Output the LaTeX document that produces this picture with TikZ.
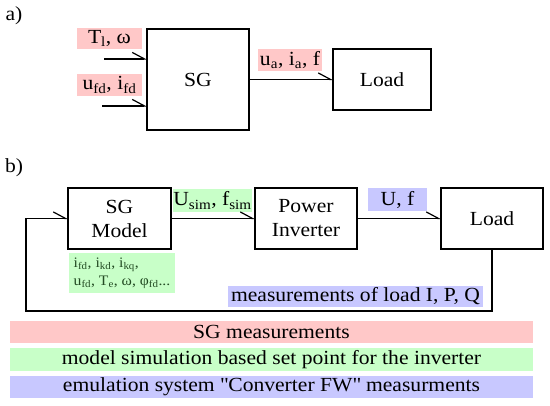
\documentclass[tikz,border=0pt]{standalone}
\usepackage{fontspec}
\setmainfont{Liberation Serif}[FakeStretch=1.08]
\usetikzlibrary{arrows.meta}
\definecolor{pinkbg}{RGB}{255,200,200}
\definecolor{greenbg}{RGB}{200,255,200}
\definecolor{bluebg}{RGB}{200,200,255}
\definecolor{darkgreentext}{RGB}{35,75,35}
\begin{document}
\begin{tikzpicture}[x=1pt,y=-1pt,
  every node/.style={inner sep=0pt,outer sep=0pt},
  txt/.style={font=\fontsize{20}{22}\selectfont},
  blk/.style={draw=black,line width=1.6pt,fill=white,align=center,font=\fontsize{20}{24}\selectfont},
  lbl/.style={font=\fontsize{20}{22}\selectfont,align=center},
  pinklbl/.style={lbl,fill=pinkbg},
  greenlbl/.style={lbl,fill=greenbg},
  bluelbl/.style={lbl,fill=bluebg},
  conn/.style={line width=1.2pt,-{Straight Barb[left,angle=56:14pt,line width=1.2pt]}},
  plain/.style={line width=1.2pt}]
\useasboundingbox (0,0) rectangle (550,406);
% a)
\node[txt] (la) at (14,16) {a)};
\node[blk,minimum width=102pt,minimum height=101pt] (sg) at (198,79.5) {SG};
\node[blk,minimum width=98pt,minimum height=61pt] (loada) at (382,79.5) {Load};
\node[pinklbl,minimum width=65pt,minimum height=21pt] (tl) at (109.5,38.5) {T\textsubscript{l}, ω};
\node[pinklbl,minimum width=65pt,minimum height=22pt] (ufd) at (109.5,85) {u\textsubscript{fd}, i\textsubscript{fd}};
\node[pinklbl,minimum width=64pt,minimum height=22pt] (ua) at (290,60) {u\textsubscript{a}, i\textsubscript{a}, f};
\coordinate (in1) at (104,59);
\coordinate (in2) at (102,106);
\draw[conn] (in1) -- (in1 -| sg.west);
\draw[conn] (in2) -- (in2 -| sg.west);
\draw[conn] (sg.east) -- (loada.west);
% b)
\node[txt] (lb) at (14,168) {b)};
\node[blk,minimum width=103pt,minimum height=61pt] (sgm) at (119.5,218.5) {SG\\Model};
\node[blk,minimum width=102pt,minimum height=61pt] (pi) at (306,218.5) {Power\\Inverter};
\node[blk,minimum width=102pt,minimum height=61pt] (loadb) at (492,218.5) {Load};
\node[greenlbl,minimum width=79pt,minimum height=23pt] (usim) at (212.5,200.5) {U\textsubscript{sim}, f\textsubscript{sim}};
\node[bluelbl,minimum width=59pt,minimum height=23pt] (uf) at (397.5,199.5) {U, f};
\node[fill=greenbg,minimum width=106pt,minimum height=40pt,inner xsep=3pt,align=left,text=darkgreentext,
  font=\fontsize{14.5}{18.5}\selectfont,anchor=north west] (vars) at (69,253)
  {i\textsubscript{fd}, i\textsubscript{kd}, i\textsubscript{kq},\\u\textsubscript{fd}, T\textsubscript{e}, ω, φ\textsubscript{fd}...};
\draw[conn] (sgm.east) -- (pi.west);
\draw[conn] (pi.east) -- (loadb.west);
\coordinate (fb) at (26,311);
\draw[conn] (loadb.south) |- (fb) |- (sgm.west);
\node[bluelbl,minimum width=255pt,minimum height=21pt] (meas) at (355.5,296.5) {measurements of load I, P, Q};
% legend
\node[pinklbl,minimum width=523pt,minimum height=22pt] (leg1) at (271.5,332) {SG measurements};
\node[greenlbl,minimum width=523pt,minimum height=23pt] (leg2) at (271.5,359.5) {model simulation based set point for the inverter};
\node[bluelbl,minimum width=523pt,minimum height=22pt] (leg3) at (271.5,387) {emulation system \textquotedbl Converter FW\textquotedbl\ measurments};
\end{tikzpicture}
\end{document}
